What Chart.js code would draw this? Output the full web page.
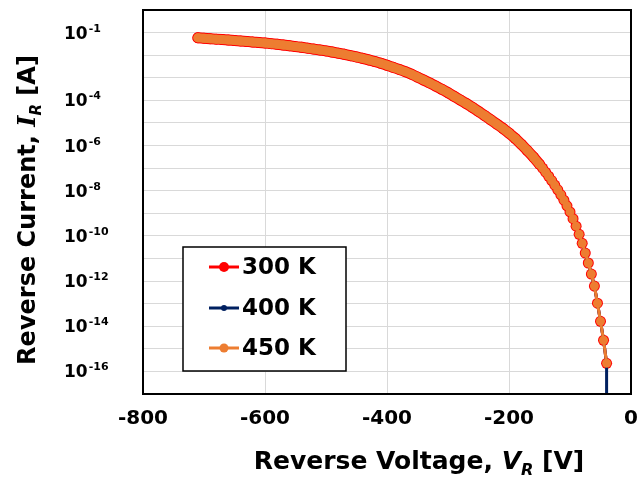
<!DOCTYPE html>
<html>
<head>
<meta charset="utf-8">
<script src="https://cdn.jsdelivr.net/npm/chart.js@4.4.1/dist/chart.umd.min.js"></script>
<style>
  html, body { margin: 0; padding: 0; background: #fff; }
  #wrap { width: 638px; height: 479px; }
</style>
</head>
<body>
<div id="wrap"><canvas id="chart-iv"></canvas></div>
<script>
// reverse bias sweep (V)
const voltage = [
  -710, -700, -690, -680, -670, -660, -650, -640, -630, -620,
  -610, -600, -590, -580, -570, -560, -550, -540, -530, -520,
  -510, -500, -490, -480, -470, -460, -450, -440, -430, -420,
  -410, -400, -390, -380, -370, -360, -350, -340, -330, -320,
  -310, -300, -290, -280, -270, -260, -250, -240, -230, -220,
  -210, -200, -190, -180, -170, -160, -150, -145, -140, -135,
  -130, -125, -120, -115, -110, -105, -100, -95, -90, -85,
  -80, -75, -70, -65, -60, -55, -50, -45, -40
];
// log10 of reverse current (A), same for all three temperatures in the picture
const logCurrent = [
  -1.23, -1.25, -1.27, -1.29, -1.31, -1.33, -1.35, -1.37, -1.39, -1.42,
  -1.44, -1.46, -1.49, -1.52, -1.55, -1.58, -1.62, -1.65, -1.69, -1.73,
  -1.77, -1.81, -1.86, -1.91, -1.96, -2.02, -2.08, -2.14, -2.21, -2.28,
  -2.36, -2.45, -2.54, -2.63, -2.73, -2.84, -2.97, -3.10, -3.23, -3.37,
  -3.51, -3.66, -3.82, -3.98, -4.14, -4.31, -4.49, -4.67, -4.86, -5.05,
  -5.24, -5.45, -5.68, -5.94, -6.22, -6.51, -6.83, -7.00, -7.18, -7.36,
  -7.55, -7.75, -7.96, -8.18, -8.42, -8.67, -8.94, -9.24, -9.57, -9.93,
  -10.33, -10.76, -11.20, -11.69, -12.22, -12.98, -13.78, -14.62, -15.64
];
// the 400 K trace drops straight off the bottom of the axis at the last bias point
const tail400V = [-40];
const tail400I = [1e-19];

const seriesNames = ["300 K", "400 K", "450 K"];
const seriesColors = ["#ff0000", "#002060", "#ed7d31"];
const yLabelExp = [-1, -4, -6, -8, -10, -12, -14, -16];

const FONT = '"DejaVu Sans", Verdana, sans-serif';

const points = voltage.map((v, i) => ({ x: v, y: Math.pow(10, logCurrent[i]) }));
const points400 = points.concat(tail400V.map((v, i) => ({ x: v, y: tail400I[i] })));

// the dense part of the sweep merges into one thick band in the original
function bandWidth(wide, thin) {
  return c => (c.p1.parsed.x <= -150 ? wide : thin);
}

// draw a run of text pieces (normal / italic / subscript) centred on x=0
function drawPieces(ctx, pieces) {
  let total = 0;
  pieces.forEach(p => { ctx.font = p.font; p.w = ctx.measureText(p.text).width; total += p.w; });
  let x = -total / 2;
  pieces.forEach(p => {
    ctx.font = p.font;
    ctx.fillText(p.text, x, p.dy || 0);
    x += p.w;
  });
}

const decor = {
  id: "decor",
  afterDraw(chart) {
    const { ctx, chartArea: a, scales } = chart;
    ctx.save();

    // plot frame
    ctx.strokeStyle = "#000";
    ctx.lineWidth = 2;
    ctx.strokeRect(a.left, a.top, a.right - a.left, a.bottom - a.top);

    // y tick labels 10^n
    ctx.fillStyle = "#000";
    ctx.textAlign = "left";
    ctx.textBaseline = "alphabetic";
    yLabelExp.forEach(e => {
      const y = scales.y.getPixelForValue(Math.pow(10, e));
      ctx.font = "bold 17px " + FONT;
      ctx.fillText("10", 64, y + 6);
      const w = ctx.measureText("10").width;
      ctx.font = "bold 11px " + FONT;
      ctx.fillText("-" + Math.abs(e), 64 + w + 1, y - 1);
    });

    // x title
    ctx.save();
    ctx.translate(419, 469);
    drawPieces(ctx, [
      { text: "Reverse Voltage, ", font: "bold 25px " + FONT },
      { text: "V", font: "italic bold 25px " + FONT },
      { text: "R", font: "italic bold 16px " + FONT, dy: 6 },
      { text: " [V]", font: "bold 25px " + FONT }
    ]);
    ctx.restore();

    // y title
    ctx.save();
    ctx.translate(35, 210);
    ctx.rotate(-Math.PI / 2);
    drawPieces(ctx, [
      { text: "Reverse Current, ", font: "bold 24px " + FONT },
      { text: "I", font: "italic bold 24px \"DejaVu Serif\", serif" },
      { text: "R", font: "italic bold 15px " + FONT, dy: 6 },
      { text: " [A]", font: "bold 24px " + FONT }
    ]);
    ctx.restore();

    // legend box
    ctx.fillStyle = "#fff";
    ctx.fillRect(183, 247, 163, 124);
    ctx.strokeStyle = "#000";
    ctx.lineWidth = 1.5;
    ctx.strokeRect(183, 247, 163, 124);
    const rows = [267, 308, 348];
    const dots = [5, 3, 4.5];
    seriesNames.forEach((name, i) => {
      const y = rows[i];
      ctx.strokeStyle = seriesColors[i];
      ctx.lineWidth = 3;
      ctx.beginPath();
      ctx.moveTo(209, y);
      ctx.lineTo(239, y);
      ctx.stroke();
      ctx.fillStyle = seriesColors[i];
      ctx.beginPath();
      ctx.arc(224, y, dots[i], 0, Math.PI * 2);
      ctx.fill();
      ctx.fillStyle = "#000";
      ctx.font = "bold 23px " + FONT;
      ctx.textBaseline = "middle";
      ctx.fillText(name, 242, y + 1);
    });

    ctx.restore();
  }
};

const ctx = document.getElementById("chart-iv").getContext("2d");

new Chart(ctx, {
  type: "line",
  data: {
    datasets: [
      {
        label: seriesNames[0],
        data: points,
        borderColor: seriesColors[0],
        backgroundColor: seriesColors[0],
        borderWidth: 3,
        borderCapStyle: "round",
        borderJoinStyle: "round",
        segment: { borderWidth: bandWidth(11, 3) },
        pointRadius: 5.5,
        pointBorderWidth: 0,
        order: 3
      },
      {
        label: seriesNames[1],
        data: points400,
        borderColor: seriesColors[1],
        backgroundColor: seriesColors[1],
        borderWidth: 3,
        pointRadius: 2.5,
        pointBorderWidth: 0,
        order: 2
      },
      {
        label: seriesNames[2],
        data: points,
        borderColor: seriesColors[2],
        backgroundColor: seriesColors[2],
        borderWidth: 3,
        borderCapStyle: "round",
        borderJoinStyle: "round",
        segment: { borderWidth: bandWidth(9, 3) },
        pointRadius: 4.5,
        pointBorderWidth: 0,
        order: 1
      }
    ]
  },
  options: {
    responsive: true,
    maintainAspectRatio: false,
    animation: false,
    layout: { padding: { left: 0, right: 7, top: 10, bottom: 0 } },
    plugins: {
      legend: { display: false },
      tooltip: { enabled: false }
    },
    scales: {
      x: {
        type: "linear",
        min: -800,
        max: 0,
        ticks: {
          stepSize: 200,
          padding: 13,
          color: "#000",
          font: { size: 20, weight: "bold", family: FONT }
        },
        grid: {
          drawTicks: false,
          color: c => (c.tick && (c.tick.value === -800 || c.tick.value === 0)) ? "rgba(0,0,0,0)" : "#d9d9d9",
          lineWidth: 1
        },
        border: { display: false },
        afterFit: s => { s.height = 85; s.paddingLeft = 0; s.paddingRight = 0; }
      },
      y: {
        type: "logarithmic",
        min: 1e-17,
        max: 1,
        afterBuildTicks: s => {
          const t = [];
          for (let e = -17; e <= 0; e++) t.push({ value: Math.pow(10, e) });
          s.ticks = t;
        },
        ticks: { display: false },
        grid: {
          drawTicks: false,
          color: "#d9d9d9",
          lineWidth: 1
        },
        border: { display: false },
        afterFit: s => { s.width = 143; s.paddingTop = 0; s.paddingBottom = 0; }
      }
    }
  },
  plugins: [decor]
});
</script>
</body>
</html>
